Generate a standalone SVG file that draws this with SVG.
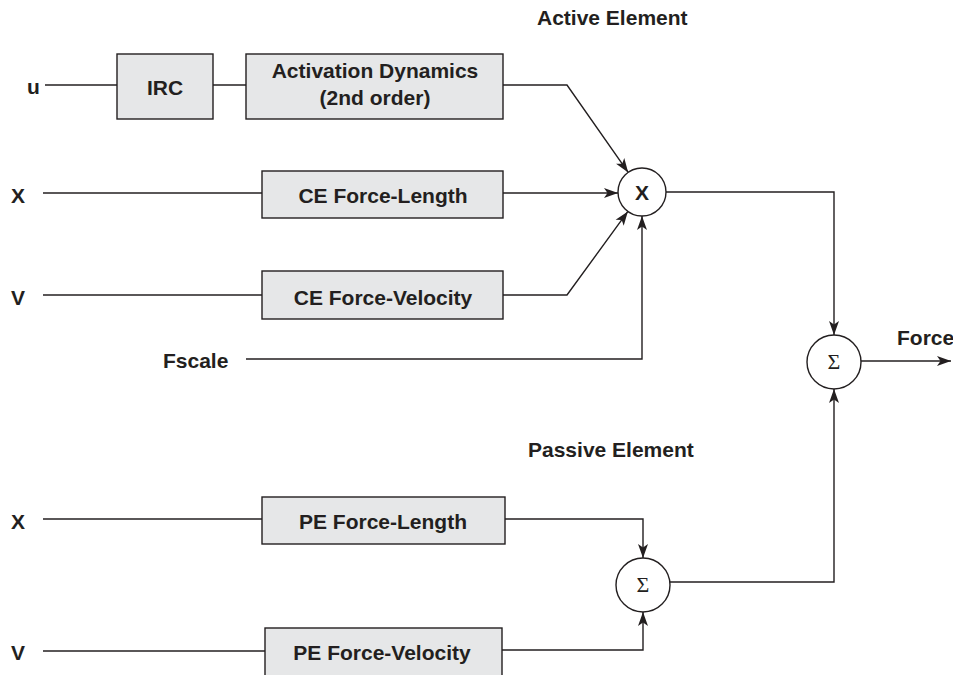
<svg xmlns="http://www.w3.org/2000/svg" width="953" height="675" viewBox="0 0 953 675">
<defs>
<style>
.t{font-family:"Liberation Sans",Arial,sans-serif;font-weight:bold;font-size:21px;fill:#231f20}
.m{text-anchor:middle}
.b{fill:#e6e7e8;stroke:#231f20;stroke-width:1.4}
.c{fill:#fff;stroke:#231f20;stroke-width:1.4}
.w{fill:none;stroke:#231f20;stroke-width:1.4}
.s{font-family:"Liberation Serif","Times New Roman",serif;font-size:22px;fill:#231f20;text-anchor:middle}
</style>
<marker id="a" markerUnits="userSpaceOnUse" markerWidth="15" markerHeight="11" refX="14" refY="5.5" orient="auto">
<path d="M0,0.5 L14,5.5 L0,10.5 L3.5,5.5 Z" fill="#231f20"/>
</marker>
</defs>
<rect width="953" height="675" fill="#fff"/>
<g id="titles">
<text class="t" x="537" y="25">Active Element</text>
<text class="t" x="528" y="457">Passive Element</text>
</g>
<g id="inputs">
<text class="t" x="27" y="94">u</text>
<text class="t" x="11" y="203">X</text>
<text class="t" x="11" y="305">V</text>
<text class="t" x="163" y="368">Fscale</text>
<text class="t" x="11" y="529">X</text>
<text class="t" x="11" y="660">V</text>
</g>
<g id="connectors">
<path class="w" d="M45,85 H117"/>
<path class="w" d="M213,85 H246"/>
<path class="w" d="M503,85 H567 L628.2,172.4" marker-end="url(#a)"/>
<path class="w" d="M43,193 H262"/>
<path class="w" d="M503,193 H618" marker-end="url(#a)"/>
<path class="w" d="M43,295 H262"/>
<path class="w" d="M503,295 H567 L627.9,211.4" marker-end="url(#a)"/>
<path class="w" d="M246,359 H642 V216" marker-end="url(#a)"/>
<path class="w" d="M666,192 H834 V335" marker-end="url(#a)"/>
<path class="w" d="M861,361 H951" marker-end="url(#a)"/>
<path class="w" d="M43,519 H262"/>
<path class="w" d="M505,519 H643 V558" marker-end="url(#a)"/>
<path class="w" d="M43,651 H265"/>
<path class="w" d="M502,650 H643 V612" marker-end="url(#a)"/>
<path class="w" d="M670,582 H834 V389" marker-end="url(#a)"/>
</g>
<g id="irc">
<rect class="b" x="117" y="54" width="96" height="65"/>
<text class="t m" x="165" y="95">IRC</text>
</g>
<g id="activation">
<rect class="b" x="246" y="54" width="257" height="65"/>
<text class="t m" x="375" y="78">Activation Dynamics</text>
<text class="t m" x="375" y="105">(2nd order)</text>
</g>
<g id="ce-fl">
<rect class="b" x="262" y="171" width="241" height="47"/>
<text class="t m" x="383" y="203">CE Force-Length</text>
</g>
<g id="ce-fv">
<rect class="b" x="262" y="271" width="241" height="48"/>
<text class="t m" x="383" y="305">CE Force-Velocity</text>
</g>
<g id="mult">
<circle class="c" cx="642" cy="192" r="24"/>
<text class="t m" x="642" y="200">X</text>
</g>
<g id="sum-total">
<circle class="c" cx="834" cy="362" r="27"/>
<text class="s" x="834" y="369">Σ</text>
<text class="t" x="897" y="345">Force</text>
</g>
<g id="pe-fl">
<rect class="b" x="262" y="497" width="243" height="47"/>
<text class="t m" x="383" y="529">PE Force-Length</text>
</g>
<g id="pe-fv">
<rect class="b" x="265" y="628" width="237" height="60"/>
<text class="t m" x="382" y="660">PE Force-Velocity</text>
</g>
<g id="sum-passive">
<circle class="c" cx="643" cy="585" r="27"/>
<text class="s" x="643" y="592">Σ</text>
</g>
</svg>
